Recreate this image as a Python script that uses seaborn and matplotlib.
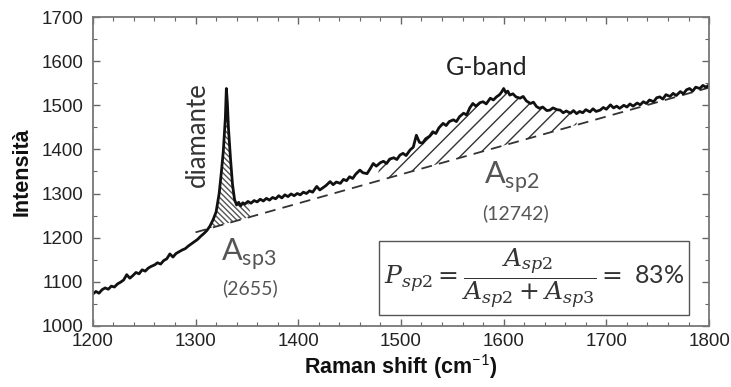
import numpy as np
import matplotlib
matplotlib.use("Agg")
import matplotlib.pyplot as plt
from matplotlib.ticker import MultipleLocator
import seaborn as sns
import pandas as pd

# ---- data ----
raman_shift = [1200, 1203, 1206, 1209, 1212, 1215, 1218, 1221, 1224, 1227, 1230, 1233, 1236, 1239,
               1242, 1245, 1248, 1251, 1254, 1257, 1260, 1263, 1266, 1269, 1272, 1275, 1278, 1281,
               1284, 1287, 1290, 1293, 1296, 1299, 1302, 1305, 1308, 1311, 1314, 1317, 1320, 1323,
               1325, 1327, 1329, 1330, 1331, 1332, 1334, 1336, 1338, 1340, 1342, 1344, 1346, 1348,
               1351, 1354, 1357, 1360, 1363, 1366, 1369, 1372, 1375, 1378, 1381, 1384, 1387, 1390,
               1393, 1396, 1399, 1402, 1405, 1408, 1411, 1414, 1418, 1421, 1424, 1427, 1431, 1434,
               1437, 1441, 1444, 1447, 1450, 1453, 1456, 1460, 1463, 1467, 1470, 1473, 1476, 1480,
               1483, 1486, 1489, 1493, 1496, 1499, 1502, 1505, 1509, 1512, 1515, 1518, 1521, 1524,
               1528, 1531, 1534, 1537, 1541, 1544, 1547, 1551, 1554, 1557, 1561, 1564, 1567, 1570,
               1573, 1577, 1580, 1583, 1587, 1590, 1593, 1596, 1598, 1600, 1602, 1604, 1606, 1609,
               1612, 1616, 1619, 1622, 1626, 1629, 1632, 1635, 1638, 1642, 1645, 1648, 1652, 1655,
               1658, 1661, 1665, 1668, 1671, 1674, 1677, 1680, 1684, 1687, 1690, 1694, 1697, 1700,
               1704, 1707, 1710, 1713, 1717, 1720, 1723, 1726, 1730, 1733, 1736, 1739, 1742, 1746,
               1749, 1752, 1755, 1758, 1762, 1765, 1768, 1772, 1775, 1778, 1781, 1784, 1787, 1791,
               1794, 1797, 1800]
intensity = [1072, 1078, 1074, 1082, 1086, 1083, 1090, 1088, 1095, 1099, 1104, 1116, 1108, 1114,
             1121, 1118, 1127, 1124, 1131, 1135, 1138, 1143, 1140, 1148, 1152, 1163, 1156, 1164,
             1168, 1172, 1175, 1181, 1186, 1191, 1196, 1203, 1209, 1216, 1226, 1240, 1258, 1300,
             1345, 1395, 1470, 1538, 1505, 1450, 1380, 1320, 1286, 1274, 1280, 1272, 1279, 1276,
             1282, 1278, 1284, 1281, 1287, 1283, 1289, 1285, 1291, 1288, 1295, 1290, 1297, 1293,
             1299, 1295, 1300, 1297, 1303, 1300, 1306, 1303, 1316, 1308, 1313, 1318, 1327, 1320,
             1326, 1323, 1332, 1329, 1338, 1334, 1344, 1353, 1347, 1345, 1356, 1368, 1362, 1370,
             1373, 1368, 1378, 1381, 1377, 1387, 1391, 1386, 1399, 1405, 1432, 1416, 1414, 1424,
             1430, 1440, 1436, 1449, 1459, 1454, 1463, 1467, 1463, 1474, 1482, 1478, 1494, 1504,
             1498, 1506, 1508, 1503, 1516, 1512, 1519, 1524, 1530, 1538, 1529, 1532, 1523, 1526,
             1519, 1516, 1520, 1510, 1504, 1507, 1497, 1493, 1496, 1488, 1489, 1494, 1490, 1489,
             1483, 1487, 1482, 1488, 1481, 1486, 1483, 1490, 1485, 1492, 1486, 1489, 1495, 1491,
             1501, 1494, 1498, 1493, 1500, 1496, 1503, 1498, 1505, 1501, 1508, 1504, 1512, 1508,
             1517, 1519, 1514, 1524, 1520, 1527, 1522, 1531, 1526, 1535, 1538, 1532, 1541, 1538,
             1545, 1541, 1546]

baseline_x = [1300, 1800]
baseline_y = [1212, 1540]

sp3_range = [1300, 1352]
sp2_range = [1478, 1672]

x_ticks = [1200, 1300, 1400, 1500, 1600, 1700, 1800]
y_ticks = [1000, 1100, 1200, 1300, 1400, 1500, 1600, 1700]

area_sp3 = "(2655)"
area_sp2 = "(12742)"

# ---- style ----
sns.set_style("ticks")
plt.rcParams["font.family"] = ["Liberation Sans", "DejaVu Sans"]
plt.rcParams["mathtext.fontset"] = "custom"
plt.rcParams["mathtext.rm"] = "DejaVu Serif"
plt.rcParams["mathtext.it"] = "DejaVu Serif:italic"
plt.rcParams["mathtext.sf"] = "Lato"
plt.rcParams["hatch.linewidth"] = 1.0

fig = plt.figure(figsize=(7.31, 3.87), dpi=100)
ax = fig.add_axes([0.127, 0.158, 0.843, 0.798])

x = np.array(raman_shift, dtype=float)
y = np.array(intensity, dtype=float)
base = np.interp(x, baseline_x, baseline_y)

# hatched areas
m3 = (x >= sp3_range[0]) & (x <= sp3_range[1])
ax.fill_between(x, base, y, where=m3 & (y >= base), interpolate=True,
                facecolor="none", edgecolor="#555555", hatch="\\\\\\\\\\\\", linewidth=0)
m2 = (x >= sp2_range[0]) & (x <= sp2_range[1])
ax.fill_between(x, base, y, where=m2 & (y >= base), interpolate=True,
                facecolor="none", edgecolor="#333333", hatch="//", linewidth=0)

# baseline
sns.lineplot(x=baseline_x, y=baseline_y, ax=ax, color="#333333", linewidth=1.3,
             linestyle=(0, (6, 4)))
# spectrum
df = pd.DataFrame({"shift": x, "intensity": y})
sns.lineplot(data=df, x="shift", y="intensity", ax=ax, color="#111111",
             linewidth=2.0, estimator=None, sort=False)

ax.set_xlim(1200, 1800)
ax.set_ylim(1000, 1700)
ax.set_xticks(x_ticks)
ax.set_yticks(y_ticks)
ax.xaxis.set_minor_locator(MultipleLocator(20))
ax.yaxis.set_minor_locator(MultipleLocator(50))
ax.tick_params(which="both", direction="in", top=True, right=True, colors="#666666",
               labelcolor="#222222", labelsize=13.5)
ax.tick_params(which="major", length=5, width=1)
ax.tick_params(which="minor", length=3, width=0.8)
ax.tick_params(axis="x", pad=5)
ax.tick_params(axis="y", pad=7)
for s in ax.spines.values():
    s.set_color("#777777")
    s.set_linewidth(1.3)

ax.set_xlabel("Raman shift (cm$^{\\mathsf{-1}}$)", fontsize=15.5, fontweight="bold",
              labelpad=2, color="#111111")
ax.set_ylabel("Intensità", fontsize=15.5, fontweight="bold", labelpad=6, color="#111111")

# annotations
ann_font = ["Lato", "DejaVu Sans"]
ax.text(1302, 1433, "diamante", rotation=90, ha="center", va="center", fontsize=18.5,
        family=ann_font, color="#333333")
ax.text(1583, 1586, "G-band", ha="center", va="center", fontsize=18,
        family=ann_font, color="#222222")
ax.text(1608, 1338, r"$\mathsf{A}_{\mathsf{sp2}}$", ha="center", va="center",
        fontsize=22, color="#555555")
ax.text(1612, 1256, area_sp2, ha="center", va="center", fontsize=14,
        family=ann_font, color="#555555")
ax.text(1352, 1162, r"$\mathsf{A}_{\mathsf{sp3}}$", ha="center", va="center",
        fontsize=22, color="#555555")
ax.text(1353, 1086, area_sp3, ha="center", va="center", fontsize=14,
        family=ann_font, color="#555555")

ax.text(1630, 1109,
        r"$P_{\mathit{sp2}}=\dfrac{A_{\mathit{sp2}}}{A_{\mathit{sp2}}+A_{\mathit{sp3}}}=$" + " 83%",
        ha="center", va="center", fontsize=18, color="#333333", family=ann_font,
        bbox=dict(boxstyle="square,pad=0.2", facecolor="white", edgecolor="#555555",
                  linewidth=1.0))

fig.savefig("out.png", dpi=100)
